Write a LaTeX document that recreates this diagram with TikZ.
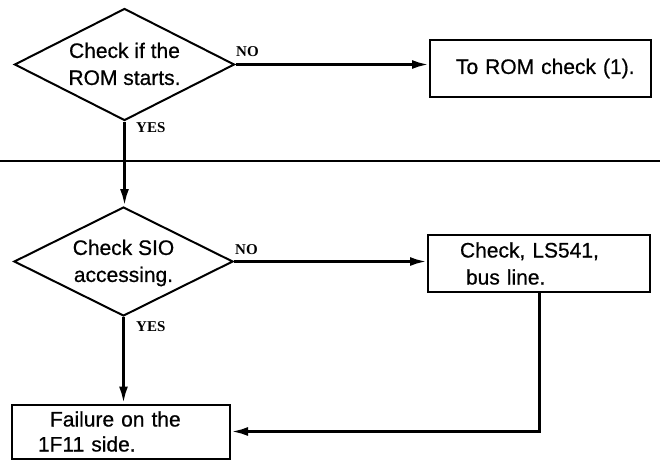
\documentclass[tikz,border=0pt]{standalone}
\usepackage{fontspec}
\setmainfont{Liberation Sans}[FakeBold=0.6]
\newfontfamily\labfont{Liberation Serif}
\usetikzlibrary{shapes.geometric,arrows.meta,calc}
\newcommand{\dtxt}[2]{\makebox[0pt]{\raisebox{-0.32em}[0pt][0pt]{\begin{tabular}{@{}c@{}}#1\\#2\end{tabular}}}}
\begin{document}
\begin{tikzpicture}[x=1pt,y=-1pt,
  every node/.style={font=\fontsize{21}{27}\selectfont},
  dia/.style={diamond, draw, line width=2pt, minimum width=220pt, minimum height=112pt, inner sep=0pt},
  boxnode/.style={rectangle, draw, line width=2pt, inner sep=0pt, align=left},
  lab/.style={font=\labfont\bfseries\fontsize{15}{17}\selectfont, inner sep=0pt, anchor=west},
  conn/.style={line width=3pt, -{Latex[length=17pt,width=9pt]}},
  plainline/.style={line width=3pt}]
\useasboundingbox (0,0) rectangle (660,461);
% first decision
\node[dia] (d1) at (124.5,64.5) {\dtxt{Check if the}{ROM starts.}};
\node[boxnode, text width=221pt, minimum height=57pt] (b1) at (540.5,68.5) {\hspace*{26pt}To ROM check (1).};
\node[lab] (no1) at (236,52) {NO};
\node[lab] (yes1) at (136,128) {YES};
\draw[conn] (d1.east) -- (d1.east -| b1.west);
% separator
\draw[line width=1.3pt] (0,161) -- (660,161);
% second decision
\node[dia, minimum width=219pt, minimum height=109pt] (d2) at (123.5,261.5) {\dtxt{Check SIO}{accessing.}};
\node[boxnode, text width=222pt, minimum height=57pt] (b2) at (539,263.5) {\hspace*{32pt}Check, LS541,\\\hspace*{38pt}bus line.};
\node[lab] (no2) at (235,250) {NO};
\node[lab] (yes2) at (136,327) {YES};
\draw[conn] (d1.south) -- (d1.south |- d2.north);
\draw[conn] (d2.east) -- (d2.east -| b2.west);
% failure box
\node[boxnode, text width=218pt, minimum height=54pt, font=\fontsize{21}{25}\selectfont] (b3) at (121,431.5) {\hspace*{38pt}Failure on the\\\hspace*{26pt}1F11 side.};
\draw[conn] (d2.south) -- (d2.south |- b3.north);
\draw[conn] (b2.south) |- (b3.east);
\end{tikzpicture}
\end{document}
